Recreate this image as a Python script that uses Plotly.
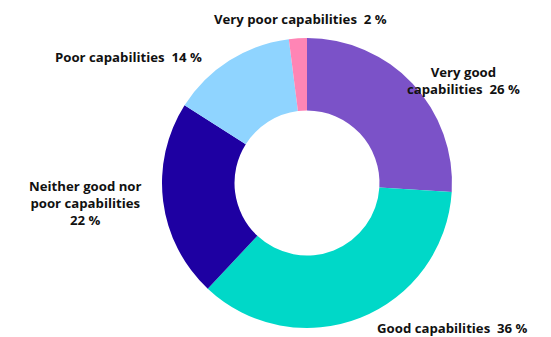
import plotly.graph_objects as go

# Survey shares by capability rating
categories = ["Very good capabilities", "Good capabilities",
              "Neither good nor poor capabilities", "Poor capabilities",
              "Very poor capabilities"]
shares = [26, 36, 22, 14, 2]
colors = ["#7B52C8", "#00D8C8", "#1E00A2", "#8FD4FF", "#FF85B5"]

# Label text lines (with line breaks) for each slice
label_lines = [["Very good", "capabilities"], ["Good capabilities"],
               ["Neither good nor", "poor capabilities"], ["Poor capabilities"],
               ["Very poor capabilities"]]

W, H = 551, 337
cx, cy, r = 307, 183, 145

fig = go.Figure(go.Pie(
    labels=categories, values=shares, marker=dict(colors=colors, line=dict(width=0)),
    hole=0.5, sort=False, direction="clockwise", rotation=0,
    textinfo="none", hoverinfo="label+percent", showlegend=False,
    domain=dict(x=[(cx - r) / W, (cx + r) / W], y=[(H - cy - r) / H, (H - cy + r) / H]),
))

# Label anchor points (px from top-left) and whether the value sits on its own line
label_pos = [(463, 80, False), (452, 328, False), (85, 203, True), (128, 57, False), (300, 19, False)]

for lines, val, (px, py, own_line) in zip(label_lines, shares, label_pos):
    body = list(lines)
    if own_line:
        body.append(f"{val} %")
    else:
        body[-1] = f"{body[-1]}  {val} %"
    fig.add_annotation(
        x=px / W, y=1 - py / H, xref="paper", yref="paper",
        text="<br>".join(f"<b>{t}</b>" for t in body),
        showarrow=False, xanchor="center", yanchor="middle", align="center",
        font=dict(family="Open Sans", size=13.2, color="#111111"),
    )

fig.update_layout(width=W, height=H, margin=dict(l=0, r=0, t=0, b=0),
                  paper_bgcolor="white", plot_bgcolor="white")
fig.write_html("out.html")
